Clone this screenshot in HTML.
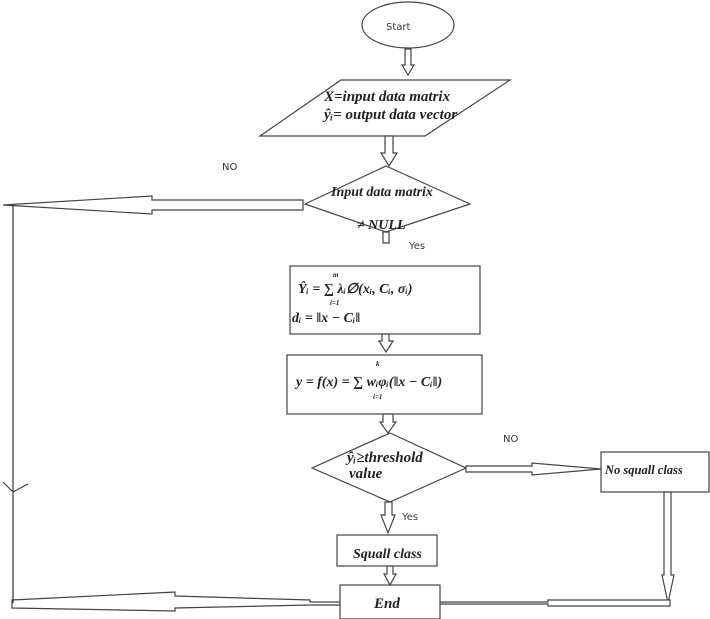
<!DOCTYPE html>
<html><head><style>
body{margin:0;background:#fff;}
svg{display:block;}
.it{font-family:"Liberation Serif",serif;font-style:italic;font-weight:bold;fill:#222;}
.sn{font-family:"DejaVu Sans","Liberation Sans",sans-serif;fill:#333;font-size:10px;}
</style></head><body>
<svg width="710" height="619" viewBox="0 0 710 619" xmlns="http://www.w3.org/2000/svg">
<g fill="#fff" stroke="#444" stroke-width="1.2">
<ellipse cx="408" cy="25" rx="46" ry="23"/>
<polygon points="341,80 510,80 425,136 260,136"/>
<polygon points="386,166 470,204 386,232 305,204"/>
<rect x="290" y="266" width="190" height="68"/>
<rect x="287" y="355" width="195" height="59"/>
<polygon points="390,433 466,468 390,502 312,468"/>
<rect x="601" y="452" width="108" height="40"/>
<rect x="337" y="535" width="100" height="31"/>
<rect x="340" y="585" width="100" height="34"/>
<polygon points="405,49 411,49 411,65 414,65 408,75 402,65 405,65"/>
<polygon points="385,136 393,136 393,153 397,153 389,166 381,153 385,153"/>
<polygon points="383,232 389,232 389,243 383,243"/>
<polygon points="382,334 389,334 389,341 393,341 386,352 379,341 382,341"/>
<polygon points="383,414 393,414 393,422 396,422 388,433 380,422 383,422"/>
<polygon points="385,502 392,502 392,515 395,515 388,533 381,515 385,515"/>
<polygon points="387,566 393,566 393,574 396,574 390,585 384,574 387,574"/>
<polygon points="303,200 152,200 152,196 3,205 152,214 152,210 303,210"/>
<polygon points="466,466 532,466 532,463 601,469 532,475 532,472 466,472"/>
<polygon points="664,492 671,492 671,575 674,575 668,603 662,575 664,575"/>
<polygon points="340,602 310,602 310,600 175,596 175,592 12,600 12,608 175,611 175,608 310,605 340,605"/>
<polygon points="440,602 548,602 548,600 670,600 670,606 548,606 548,604 440,604"/>
</g>
<line x1="13" y1="205" x2="13" y2="603" stroke="#333" stroke-width="1.2"/>
<polyline points="3,482 13,492 28,484" fill="none" stroke="#333" stroke-width="1"/>
<text x="386" y="30" class="sn" font-size="11">Start</text>
<text x="324" y="101" class="it" font-size="15">X=input data matrix</text>
<text x="324" y="119" class="it" font-size="15">ŷᵢ= output data vector</text>
<text x="331" y="196" class="it" font-size="14">Input data matrix</text>
<text x="357" y="229" class="it" font-size="14">≠ NULL</text>
<text x="409" y="249" class="sn">Yes</text>
<text x="222" y="170" class="sn">NO</text>
<text x="503" y="442" class="sn">NO</text>
<text x="402" y="520" class="sn">Yes</text>
<text x="298" y="293" class="it" font-size="14" font-weight="normal">Ŷᵢ = ∑ λᵢ∅(xᵢ, Cᵢ, σᵢ)</text>
<text x="333" y="277" class="it" font-size="7">m</text>
<text x="330" y="305" class="it" font-size="7">i=1</text>
<text x="292" y="322" class="it" font-size="14">dᵢ = ‖x − Cᵢ‖</text>
<text x="296" y="386" class="it" font-size="14">y = f(x) = ∑ wᵢφᵢ(‖x − Cᵢ‖)</text>
<text x="376" y="366" class="it" font-size="7">k</text>
<text x="373" y="399" class="it" font-size="7">i=1</text>
<text x="347" y="462" class="it" font-size="15">ŷᵢ≥threshold</text>
<text x="349" y="478" class="it" font-size="15">value</text>
<text x="605" y="474" class="it" font-size="12.5">No squall class</text>
<text x="353" y="558" class="it" font-size="14">Squall class</text>
<text x="374" y="608" class="it" font-size="15">End</text>
</svg>
</body></html>
